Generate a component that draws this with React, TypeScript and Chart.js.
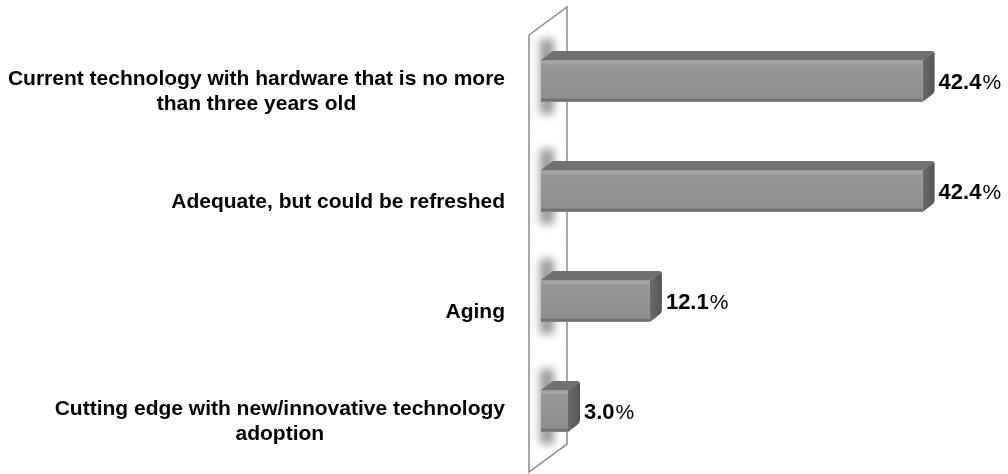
import React, { useEffect, useRef } from "react";
import { Chart, registerables } from "chart.js";

Chart.register(...registerables);

const categories: (string | string[])[] = [
  ["Current technology with hardware that is no more", "than three years old"],
  "Adequate, but could be refreshed",
  "Aging",
  ["Cutting edge with new/innovative technology", "adoption"],
];
const values = [42.4, 42.4, 12.1, 3.0];
const valueLabels = ["42.4", "42.4", "12.1", "3.0"];

const DX = 12;
const DY = 9;
const LABEL_FONT = "bold 21px 'Liberation Sans', Arial, sans-serif";
const LINE_H = 25;

const threeD = {
  id: "threeD",
  beforeDatasetsDraw(chart: any) {
    const ctx = chart.ctx as CanvasRenderingContext2D;
    const a = chart.chartArea;
    // back wall
    const fx = a.left - 12;
    const bx = a.left + 26;
    const topF = a.top + 9;
    const botF = a.bottom + 6;
    const slope = 28;
    ctx.save();
    ctx.beginPath();
    ctx.moveTo(fx, topF);
    ctx.lineTo(bx, topF - slope);
    ctx.lineTo(bx, botF - slope);
    ctx.lineTo(fx, botF);
    ctx.closePath();
    ctx.fillStyle = "#ffffff";
    ctx.fill();
    ctx.strokeStyle = "#8a8a8a";
    ctx.lineWidth = 1.5;
    ctx.stroke();
    // shadows on wall
    const meta = chart.getDatasetMeta(0);
    ctx.beginPath();
    ctx.moveTo(fx, topF);
    ctx.lineTo(bx, topF - slope);
    ctx.lineTo(bx, botF - slope);
    ctx.lineTo(fx, botF);
    ctx.closePath();
    ctx.clip();
    ctx.filter = "blur(4px)";
    meta.data.forEach((bar: any) => {
      const h = bar.height;
      const top = bar.y - h / 2;
      ctx.fillStyle = "rgba(0,0,0,0.4)";
      ctx.fillRect(bar.base - 1, top - DY - 12, 14, h + DY + 24);
    });
    ctx.filter = "none";
    ctx.restore();

    // category labels: block right-aligned, lines centred within block
    const yScale = chart.scales.y;
    ctx.save();
    ctx.font = LABEL_FONT;
    ctx.fillStyle = "#000000";
    ctx.textBaseline = "middle";
    ctx.textAlign = "center";
    const rightEdge = a.left - 36;
    categories.forEach((lab, i) => {
      const lines = Array.isArray(lab) ? lab : [lab];
      const widest = Math.max(...lines.map((l) => ctx.measureText(l).width));
      const cx = rightEdge - widest / 2;
      const cy = yScale.getPixelForTick(i) + 11;
      const startY = cy - ((lines.length - 1) * LINE_H) / 2;
      lines.forEach((l, j) => ctx.fillText(l, cx, startY + j * LINE_H));
    });
    ctx.restore();
  },
  afterDatasetsDraw(chart: any) {
    const ctx = chart.ctx as CanvasRenderingContext2D;
    const meta = chart.getDatasetMeta(0);
    meta.data.forEach((bar: any, i: number) => {
      const h = bar.height;
      const left = bar.base;
      const right = bar.x;
      const top = bar.y - h / 2;
      const bottom = bar.y + h / 2;
      ctx.save();
      // front face gradient
      const g = ctx.createLinearGradient(0, top, 0, bottom);
      g.addColorStop(0, "#9a9a9a");
      g.addColorStop(0.06, "#a8a8a8");
      g.addColorStop(0.12, "#979797");
      g.addColorStop(0.9, "#8f8f8f");
      g.addColorStop(0.95, "#6a6a6a");
      g.addColorStop(1, "#8a8a8a");
      ctx.fillStyle = g;
      ctx.fillRect(left, top, right - left, h);
      // top face
      ctx.beginPath();
      ctx.moveTo(left, top);
      ctx.lineTo(left + DX, top - DY);
      ctx.lineTo(right + DX - 3, top - DY);
      ctx.quadraticCurveTo(right + DX, top - DY, right + DX, top - DY + 3);
      ctx.lineTo(right, top);
      ctx.closePath();
      ctx.fillStyle = "#707070";
      ctx.fill();
      // side face
      ctx.beginPath();
      ctx.moveTo(right, top);
      ctx.lineTo(right + DX, top - DY + 2);
      ctx.lineTo(right + DX, bottom - DY - 3);
      ctx.quadraticCurveTo(right + DX, bottom - DY, right + DX - 3, bottom - DY + 2);
      ctx.lineTo(right, bottom);
      ctx.closePath();
      const gs = ctx.createLinearGradient(right, 0, right + DX, 0);
      gs.addColorStop(0, "#6a6a6a");
      gs.addColorStop(1, "#555555");
      ctx.fillStyle = gs;
      ctx.fill();
      // value label
      ctx.fillStyle = "#000000";
      ctx.textBaseline = "middle";
      ctx.textAlign = "left";
      ctx.font = "bold 22px 'Liberation Sans', Arial, sans-serif";
      const x0 = right + DX + 4;
      const y0 = bar.y + 2;
      ctx.fillText(valueLabels[i], x0, y0);
      const w = ctx.measureText(valueLabels[i]).width;
      ctx.font = "21px 'Liberation Sans', Arial, sans-serif";
      ctx.fillText("%", x0 + w + 1, y0);
      ctx.restore();
    });
  },
};

export default function App() {
  const ref = useRef<HTMLCanvasElement | null>(null);
  useEffect(() => {
    document.body.style.margin = "0";
    const chart = new Chart(ref.current!, {
      type: "bar",
      data: {
        labels: categories,
        datasets: [
          {
            data: values,
            backgroundColor: "rgba(0,0,0,0)",
            borderWidth: 0,
            barThickness: 42,
          },
        ],
      },
      options: {
        indexAxis: "y",
        animation: false,
        responsive: false,
        maintainAspectRatio: false,
        layout: { padding: { top: 26, bottom: 8, right: 17, left: 0 } },
        plugins: {
          legend: { display: false },
          tooltip: { enabled: false },
        },
        scales: {
          x: {
            display: false,
            min: 0,
            max: 50,
          },
          y: {
            grid: { display: false, drawTicks: false },
            border: { display: false },
            afterFit: (scale: any) => {
              scale.width = 541;
              scale.paddingTop = 0;
              scale.paddingBottom = 0;
            },
            ticks: { display: false },
          },
        },
      },
      plugins: [threeD],
    });
    return () => chart.destroy();
  }, []);
  return (
    <div style={{ width: 1008, height: 474, position: "relative" }}>
      <canvas ref={ref} width={1008} height={474} style={{ display: "block" }} />
    </div>
  );
}
